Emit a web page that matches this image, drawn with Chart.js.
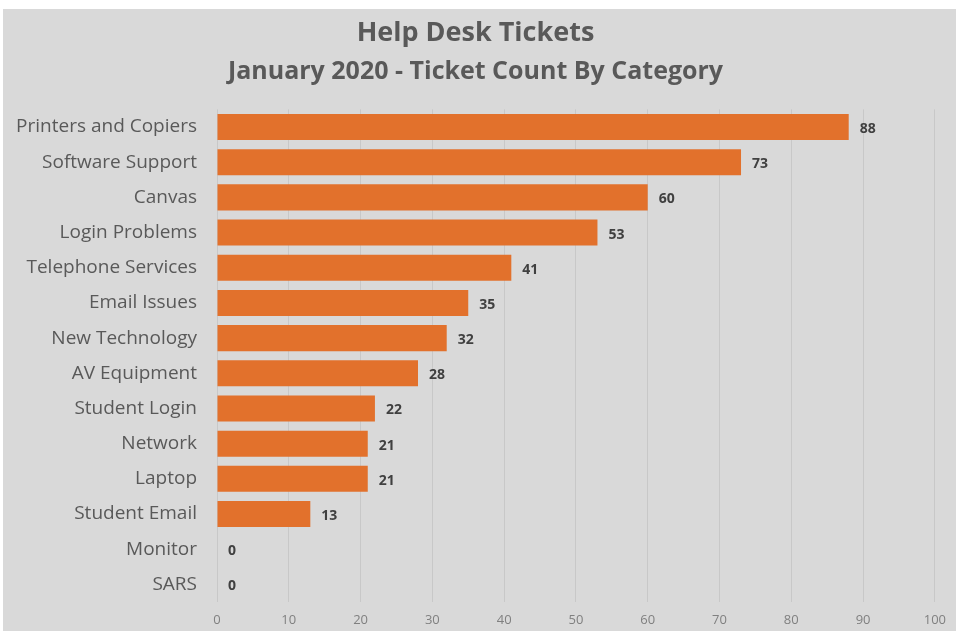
<!DOCTYPE html>
<html>
<head>
<meta charset="utf-8">
<script src="https://cdn.jsdelivr.net/npm/chart.js@4"></script>
<style>
  html, body { margin: 0; padding: 0; background: #ffffff; }
  #wrap { position: absolute; left: 3px; top: 9px; width: 953px; height: 622px; background: #d9d9d9; }
</style>
</head>
<body>
<div id="wrap"><canvas id="chart"></canvas></div>
<script>
const categories = [
    'Printers and Copiers', 'Software Support', 'Canvas', 'Login Problems',
    'Telephone Services', 'Email Issues', 'New Technology', 'AV Equipment',
    'Student Login', 'Network', 'Laptop', 'Student Email', 'Monitor', 'SARS'
];
const ticketCounts = [88, 73, 60, 53, 41, 35, 32, 28, 22, 21, 21, 13, 0, 0];
const xTicks = [0, 10, 20, 30, 40, 50, 60, 70, 80, 90, 100];

const fontFamily = '"Open Sans", sans-serif';

// value labels at the end of each bar
const barLabels = {
    id: 'barLabels',
    afterDatasetsDraw(chart) {
        const ctx = chart.ctx;
        const meta = chart.getDatasetMeta(0);
        ctx.save();
        ctx.font = 'bold 14px ' + fontFamily;
        ctx.fillStyle = '#404040';
        ctx.textAlign = 'left';
        ctx.textBaseline = 'middle';
        meta.data.forEach((bar, i) => {
            ctx.fillText(String(ticketCounts[i]), bar.x + 11, bar.y + 2);
        });
        ctx.restore();
    }
};

new Chart(document.getElementById('chart').getContext('2d'), {
    type: 'bar',
    data: {
        labels: categories,
        datasets: [{
            label: 'Tickets',
            data: ticketCounts,
            backgroundColor: '#e2712c',
            borderWidth: 0,
            categoryPercentage: 1,
            barPercentage: 0.74
        }]
    },
    options: {
        indexAxis: 'y',
        responsive: true,
        maintainAspectRatio: false,
        animation: false,
        layout: { padding: { left: 0, right: 8, top: 0, bottom: 3 } },
        plugins: {
            legend: { display: false },
            tooltip: { enabled: false },
            title: {
                display: true,
                text: 'Help Desk Tickets',
                color: '#595959',
                font: { family: fontFamily, size: 27, weight: 'bold' },
                padding: { top: 8, bottom: 7 }
            },
            subtitle: {
                display: true,
                text: 'January 2020 - Ticket Count By Category',
                color: '#595959',
                font: { family: fontFamily, size: 25, weight: 'bold' },
                padding: { top: 0, bottom: 23 }
            }
        },
        scales: {
            x: {
                min: 0,
                max: 100,
                afterBuildTicks: axis => { axis.ticks = xTicks.map(v => ({ value: v })); },
                afterFit: axis => { axis.height = 26; },
                ticks: { color: '#808080', font: { family: fontFamily, size: 13 }, padding: 10 },
                grid: { color: '#c8c8c8', lineWidth: 1, drawTicks: false },
                border: { display: false }
            },
            y: {
                afterFit: axis => {
                    axis.width = 214;
                    axis.paddingTop = 0;
                    axis.paddingBottom = 0;
                },
                ticks: { color: '#595959', font: { family: fontFamily, size: 19 }, padding: 12 },
                grid: { display: false },
                border: { display: false }
            }
        }
    },
    plugins: [barLabels]
});
</script>
</body>
</html>
